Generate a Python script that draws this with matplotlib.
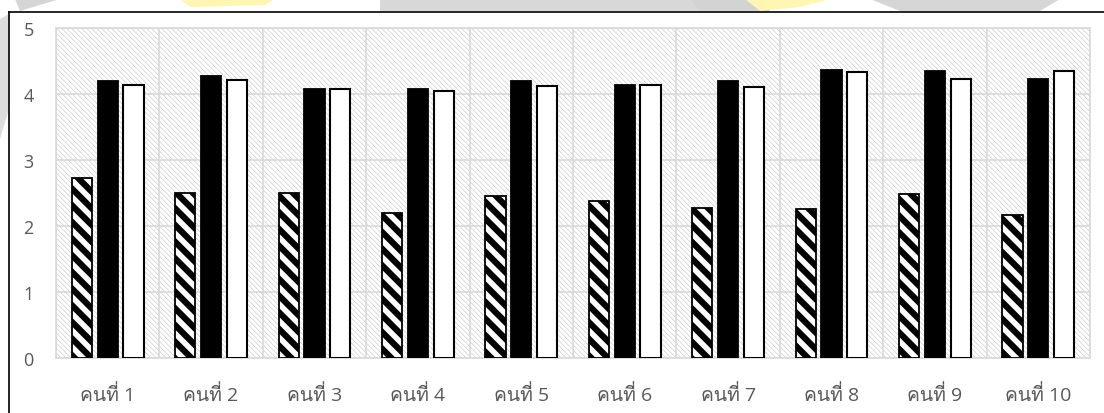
import numpy as np
import matplotlib
matplotlib.use("Agg")
import matplotlib.pyplot as plt
from matplotlib import font_manager
from matplotlib.ft2font import FT2Font
from matplotlib.patches import Polygon
from matplotlib.lines import Line2D

# ---- data ----
categories = ["คนที่ 1", "คนที่ 2", "คนที่ 3", "คนที่ 4", "คนที่ 5",
              "คนที่ 6", "คนที่ 7", "คนที่ 8", "คนที่ 9", "คนที่ 10"]
series_hatched = [2.72, 2.50, 2.50, 2.20, 2.45, 2.38, 2.28, 2.26, 2.49, 2.16]
series_black = [4.19, 4.28, 4.07, 4.08, 4.19, 4.13, 4.19, 4.36, 4.35, 4.22]
series_white = [4.14, 4.21, 4.07, 4.05, 4.12, 4.13, 4.11, 4.34, 4.23, 4.35]
y_ticks = [0, 1, 2, 3, 4, 5]


def font_with(ch):
    """Return the name of an installed font that has a glyph for ch."""
    for f in font_manager.fontManager.ttflist:
        try:
            if ord(ch) in FT2Font(f.fname).get_charmap():
                return f.name
        except Exception:
            continue
    return None


thai_font = font_with("ค")
label_family = ["Open Sans"] + ([thai_font] if thai_font else []) + ["DejaVu Sans"]

plt.rcParams["hatch.linewidth"] = 4.5

W, H, DPI = 1104, 414, 100
fig = plt.figure(figsize=(W / DPI, H / DPI), dpi=DPI, facecolor="white")

# plot area in pixels
left_px, right_px, top_px, bottom_px = 56, 1090, 29, 359
ax = fig.add_axes([left_px / W, (H - bottom_px) / H,
                   (right_px - left_px) / W, (bottom_px - top_px) / H])
ax.set_facecolor("none")

# fine diagonal shading behind the plot area
pw, ph = right_px - left_px, bottom_px - top_px
cols = np.arange(pw)[None, :]
rows = np.arange(ph)[:, None]
d = (cols - rows) % 5
shade = np.ones((ph, pw, 3))
shade[d == 0] = 0.86
shade[d == 1] = 0.95
fig.figimage(shade, xo=left_px, yo=H - bottom_px, zorder=-1, origin="upper")

# outer chart frame (cut by the image edge)
fig.add_artist(Line2D([9 / W, 1.0], [1 - 13 / H, 1 - 13 / H],
                      transform=fig.transFigure, color="black", lw=1.2))
fig.add_artist(Line2D([9 / W, 9 / W], [0.0, 1 - 13 / H],
                      transform=fig.transFigure, color="black", lw=1.2))

# faint emblem shapes above the frame
def fig_poly(pts, color, alpha=1.0):
    xy = [(x / W, 1 - y / H) for x, y in pts]
    fig.add_artist(Polygon(xy, closed=True, transform=fig.transFigure,
                           facecolor=color, edgecolor="none", alpha=alpha, zorder=-2))

fig_poly([(380, 0), (700, 0), (700, 12), (380, 12)], "#d8d8d8")
fig_poly([(690, 0), (760, 0), (770, 12), (700, 12)], "#d3d3d3")
fig_poly([(745, 0), (830, 0), (800, 8), (760, 12)], "#fff6b3")
fig_poly([(180, 0), (275, 0), (265, 6), (190, 8)], "#fff6b3")
fig_poly([(870, 0), (1060, 0), (1040, 12), (900, 12)], "#d6d6d6")
fig_poly([(15, 0), (60, 0), (20, 12)], "#d6d6d6")
fig_poly([(0, 20), (9, 15), (9, 110), (0, 140)], "#dcdcdc")

x = np.arange(len(categories))
bw, step = 0.195, 0.25
ax.bar(x - step, series_hatched, width=bw, facecolor="white", edgecolor="black",
       hatch="\\\\", linewidth=1.3, zorder=3)
ax.bar(x, series_black, width=bw, facecolor="black", edgecolor="black",
       linewidth=1.3, zorder=3)
ax.bar(x + step, series_white, width=bw, facecolor="white", edgecolor="black",
       linewidth=1.5, zorder=3)

ax.set_xlim(-0.5, len(categories) - 0.5)
ax.set_ylim(0, 5)
ax.set_yticks(y_ticks)
ax.set_yticklabels([str(t) for t in y_ticks])
ax.set_xticks(x)
ax.set_xticklabels(categories, family=label_family)
ax.set_xticks(np.arange(len(categories) + 1) - 0.5, minor=True)

ax.grid(axis="y", which="major", color="#d9d9d9", lw=1.2, zorder=1)
ax.grid(axis="x", which="minor", color="#d9d9d9", lw=1.2, zorder=1)
ax.set_axisbelow(True)

ax.tick_params(axis="both", which="both", length=0, colors="#595959")
ax.tick_params(axis="y", pad=16, labelsize=13)
ax.tick_params(axis="x", pad=19, labelsize=14)
for lab in ax.get_yticklabels():
    lab.set_family(label_family)

for s in ax.spines.values():
    s.set_color("#d9d9d9")
    s.set_linewidth(1.2)

fig.savefig("out.png", dpi=DPI, facecolor="white")
